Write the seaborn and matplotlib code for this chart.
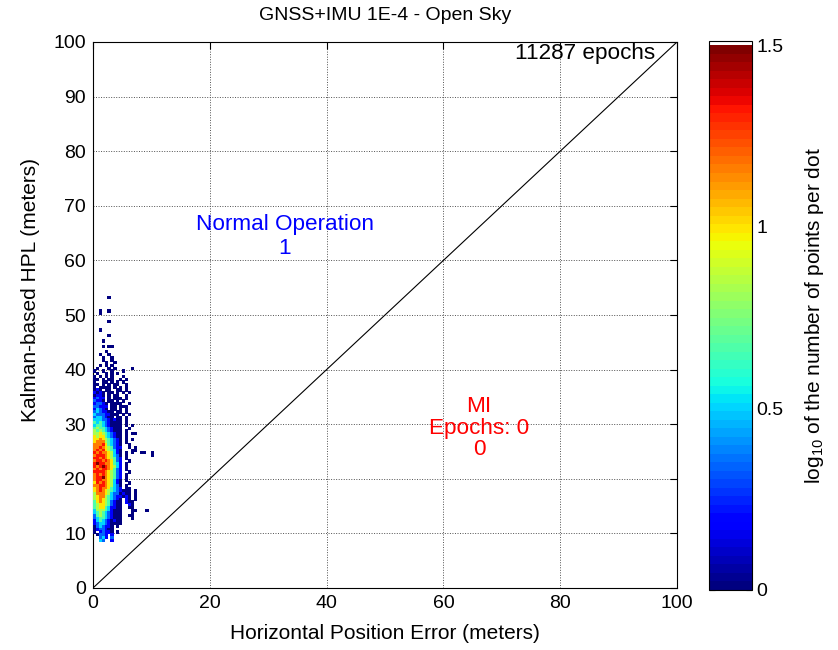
import numpy as np
import pandas as pd
import matplotlib
matplotlib.use("Agg")
import matplotlib.pyplot as plt
from matplotlib.colors import ListedColormap, BoundaryNorm
from matplotlib.cm import ScalarMappable
import seaborn as sns

# ---- labels -------------------------------------------------------------
TITLE = "GNSS+IMU 1E-4 - Open Sky"
X_LABEL = "Horizontal Position Error (meters)"
Y_LABEL = "Kalman-based HPL (meters)"
CBAR_LABEL = r"log$_{10}$ of the number of points per dot"
X_TICKS = [0, 20, 40, 60, 80, 100]
Y_TICKS = [0, 10, 20, 30, 40, 50, 60, 70, 80, 90, 100]
CBAR_TICKS = [0, 0.5, 1, 1.5]
CBAR_TICK_LABELS = ["0", "0.5", "1", "1.5"]

# ---- region counts --------------------------------------------------------
N_EPOCHS = 11287
NORMAL_OP = 1
MI_EPOCHS = 0
MI_COUNT = 0

# ---- 2-D histogram of (HPE, HPL) -----------------------------------------
# 0.5 m x 0.5 m bins. Rows run from HPL 54 m downwards, columns from HPE 0 m.
# Each character is the bin's log10(count) in steps of 1/6 ('.' = empty bin).
BIN_M = 0.5
HPL_TOP = 54.0
LOG_STEP = 1.0 / 6.0
LOG_MAX = 1.5
HIST_ROWS = [
    "",
    ".....0",
    "",
    "",
    "",
    "",
    "..0..0",
    "..0",
    "",
    "",
    ".....0",
    "",
    "",
    "..0",
    "",
    ".....0",
    "",
    "...0",
    "",
    "...0.00",
    "",
    "....0",
    "..0..0",
    "...0..0",
    "...0..0",
    "....0..0",
    "..0.0.0",
    ".0...0.0.....0",
    "0..0..0...0",
    ".0..0.0.0",
    "0.0.0.0...0",
    "00.0.00..0.0",
    "0..00.0.0.0",
    "00.0.0.00..0",
    "0.0000.0.0.0",
    "010.00..00.0",
    "1010.00.0.0.0",
    "0110.0.00..0",
    "1211.0.000.0",
    "2110.00.0.0",
    "12210.0000..0",
    "22111.00.000",
    "13210.00.0.0",
    "2321100.00.0",
    "322211000.0.0",
    "2332100.00.0",
    "3332210100.0",
    "4343210000.0",
    "3443210000.0.0",
    "4544321000..0",
    "5454321000.0",
    "5565432100.0.00",
    "6566432100.0",
    "6676543210.0.0",
    "6777543210.0",
    "7778643210..0",
    "7787654211..0.0",
    "7878654310...00",
    "8787765310.0.0..00..0",
    "7888765320.0........0",
    "8878765421.0",
    "7887876421..0",
    "8988776431.0",
    "8789876531.0",
    "7878876421.0",
    "8888765421..0",
    "7878765421.0",
    "7889765421.0",
    "7887765310.0",
    "6878765310..0",
    "7788765320.0",
    "6787764321.00",
    "6787654321000.0",
    "5777653220100.0",
    "5677543211010.0",
    "5676543210.10.0",
    "4676542100.100",
    "4566542100..10",
    "4566431100..00",
    "3555431000...00...0",
    "3454321000...0",
    "2454321000..00",
    "2344321000...0",
    "1343210100",
    "1233210000",
    "0232110.0",
    "0122100",
    "0.12110.0",
    ".0221.1",
    "..231.2",
    "..32..1",
]

# Convert the bin table to one record per occupied bin (bin centres).
records = []
for r, row in enumerate(HIST_ROWS):
    hpl = HPL_TOP - BIN_M * (r + 1) + BIN_M / 2
    for c, ch in enumerate(row):
        if ch != ".":
            records.append((BIN_M * c + BIN_M / 2, hpl, int(ch) * LOG_STEP))
bins = pd.DataFrame(records, columns=["hpe", "hpl", "log_count"])

# ---- style ----------------------------------------------------------------
sns.set_theme(style="white")
plt.rcParams.update({
    "font.family": ["Liberation Sans", "DejaVu Sans"],
    "mathtext.fontset": "custom",
    "mathtext.rm": "Liberation Sans",
    "mathtext.it": "Liberation Sans:italic",
    "text.color": "black",
    "axes.labelcolor": "black",
    "xtick.color": "black",
    "ytick.color": "black",
})

# jet with 64 levels, plus a thin white cap above the top of the scale
jet64 = plt.get_cmap("jet", 64)(np.arange(64))
cmap = ListedColormap(np.vstack([jet64, [1, 1, 1, 1]]))
bounds = np.append(np.linspace(0, LOG_MAX, 65), 1.512)
norm = BoundaryNorm(bounds, cmap.N)
levels = sorted(bins["log_count"].unique())
palette = {v: jet64[min(int(v / LOG_MAX * 64), 63)] for v in levels}

W, H = 838, 650
fig = plt.figure(figsize=(W / 100, H / 100), dpi=100)
ax = fig.add_axes([93 / W, 1 - 588 / H, 584 / W, 546 / H])

ax.set_xlim(0, 100)
ax.set_ylim(0, 100)
ax.set_axisbelow(True)
ax.grid(True, color="#505050", linestyle=(0, (1, 1.6)), linewidth=0.7)

sns.scatterplot(data=bins, x="hpe", y="hpl", hue="log_count", palette=palette,
                marker="s", s=5.5, linewidth=0, legend=False, ax=ax, zorder=3)

ax.axline((0, 0), slope=1, color="black", linewidth=0.8, zorder=2)

ax.set_xticks(X_TICKS)
ax.set_yticks(Y_TICKS)
ax.tick_params(direction="in", top=True, right=True, length=5, width=0.8,
               labelsize=14, colors="black", pad=5)
for s in ax.spines.values():
    s.set_color("black")
    s.set_linewidth(0.8)

ax.set_xlabel(X_LABEL, fontsize=15, labelpad=9)
ax.set_ylabel(Y_LABEL, fontsize=15)
ax.yaxis.set_label_coords(-0.09, (588 - 290) / 546)
fig.text(385 / W, 1 - 16 / H, TITLE, ha="center", va="center", fontsize=14)

FS = 16.2
ax.text(96.2, 97.9, f"{N_EPOCHS} epochs", ha="right", va="center", fontsize=FS)
ax.text(32.8, 66.5, "Normal Operation", ha="center", va="center",
        fontsize=FS, color="blue")
ax.text(32.8, 62.2, f"{NORMAL_OP}", ha="center", va="center",
        fontsize=FS, color="blue")
ax.text(66.1, 33.2, "MI", ha="center", va="center", fontsize=FS, color="red")
ax.text(66.1, 29.25, f"Epochs: {MI_EPOCHS}", ha="center", va="center",
        fontsize=FS, color="red")
ax.text(66.1, 25.3, f"{MI_COUNT}", ha="center", va="center", fontsize=FS,
        color="red")

# ---- colorbar -------------------------------------------------------------
cax = fig.add_axes([709 / W, 1 - 590 / H, 43 / W, 549 / H])
cb = fig.colorbar(ScalarMappable(norm=norm, cmap=cmap), cax=cax,
                  spacing="proportional", ticks=CBAR_TICKS)
cb.set_ticklabels(CBAR_TICK_LABELS)
cb.minorticks_off()
cb.outline.set_edgecolor("black")
cb.outline.set_linewidth(0.8)
cax.yaxis.set_ticks_position("both")
cax.yaxis.set_label_position("right")
cax.tick_params(direction="in", length=4, width=0.8, labelsize=14,
                left=True, right=True, labelleft=False, labelright=True, pad=3,
                colors="black")
cb.set_label(CBAR_LABEL, fontsize=15, labelpad=14)

fig.savefig("out.png", dpi=100)
